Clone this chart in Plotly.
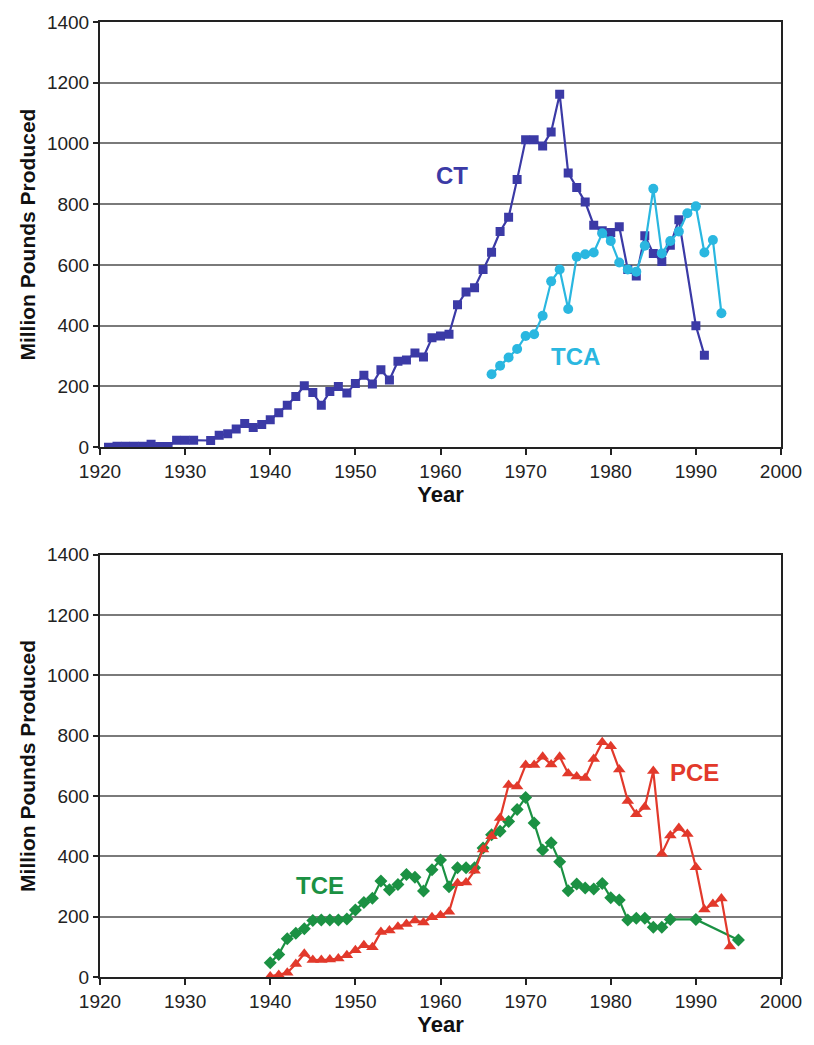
import plotly.graph_objects as go
from plotly.subplots import make_subplots

# ---- Data ----
ct_years = [1921, 1922, 1923, 1924, 1925, 1926, 1927, 1928, 1929, 1930, 1931, 1933,
            1934, 1935, 1936, 1937, 1938, 1939, 1940, 1941, 1942, 1943, 1944, 1945,
            1946, 1947, 1948, 1949, 1950, 1951, 1952, 1953, 1954, 1955, 1956, 1957,
            1958, 1959, 1960, 1961, 1962, 1963, 1964, 1965, 1966, 1967, 1968, 1969,
            1970, 1971, 1972, 1973, 1974, 1975, 1976, 1977, 1978, 1979, 1980, 1981,
            1982, 1983, 1984, 1985, 1986, 1987, 1988, 1990, 1991]
ct_values = [0, 3, 3, 3, 3, 10, 2, 2, 23, 23, 23, 22,
             39, 44, 60, 78, 65, 75, 90, 113, 138, 167, 202, 180,
             138, 183, 200, 178, 210, 237, 208, 255, 221, 283, 287, 310,
             297, 360, 366, 372, 469, 511, 525, 585, 642, 710, 757, 881,
             1012, 1012, 992, 1038, 1162, 903, 855, 807, 731, 713, 707, 726,
             585, 564, 696, 638, 611, 665, 749, 400, 303]

tca_years = [1966, 1967, 1968, 1969, 1970, 1971, 1972, 1973, 1974, 1975, 1976, 1977,
             1978, 1979, 1980, 1981, 1982, 1983, 1984, 1985, 1986, 1987, 1988, 1989,
             1990, 1991, 1992, 1993]
tca_values = [240, 268, 295, 323, 366, 372, 433, 546, 585, 455, 627, 635,
              641, 704, 679, 608, 585, 578, 663, 851, 638, 679, 710, 770,
              793, 641, 682, 441]

tce_years = [1940, 1941, 1942, 1943, 1944, 1945, 1946, 1947, 1948, 1949, 1950, 1951,
             1952, 1953, 1954, 1955, 1956, 1957, 1958, 1959, 1960, 1961, 1962, 1963,
             1964, 1965, 1966, 1967, 1968, 1969, 1970, 1971, 1972, 1973, 1974, 1975,
             1976, 1977, 1978, 1979, 1980, 1981, 1982, 1983, 1984, 1985, 1986, 1987,
             1990, 1995]
tce_values = [47, 75, 127, 145, 160, 187, 189, 189, 189, 192, 222, 247,
              261, 318, 289, 307, 340, 331, 285, 356, 388, 299, 362, 362,
              362, 428, 472, 483, 516, 555, 595, 511, 421, 445, 382, 286,
              308, 295, 292, 310, 263, 255, 189, 195, 195, 165, 165, 191,
              191, 123]

pce_years = [1940, 1941, 1942, 1943, 1944, 1945, 1946, 1947, 1948, 1949, 1950, 1951,
             1952, 1953, 1954, 1955, 1956, 1957, 1958, 1959, 1960, 1961, 1962, 1963,
             1964, 1965, 1966, 1967, 1968, 1969, 1970, 1971, 1972, 1973, 1974, 1975,
             1976, 1977, 1978, 1979, 1980, 1981, 1982, 1983, 1984, 1985, 1986, 1987,
             1988, 1989, 1990, 1991, 1992, 1993, 1994]
pce_values = [2, 7, 14, 43, 77, 56, 56, 58, 61, 72, 89, 105,
              99, 149, 154, 167, 176, 187, 181, 198, 205, 216, 311, 313,
              352, 423, 467, 527, 637, 632, 703, 703, 730, 705, 730, 675,
              665, 660, 723, 778, 765, 688, 584, 540, 564, 683, 409, 469,
              494, 474, 364, 224, 242, 260, 101]

x_ticks = [1920, 1930, 1940, 1950, 1960, 1970, 1980, 1990, 2000]
y_ticks = [0, 200, 400, 600, 800, 1000, 1200, 1400]

labels_top = [("CT", 1961.3, 895), ("TCA", 1975.8, 297)]
labels_bottom = [("TCE", 1945.8, 302), ("PCE", 1989.8, 679)]

C_CT = "#3b3aa6"
C_TCA = "#2ab7e0"
C_TCE = "#1b9143"
C_PCE = "#e2392b"

fig = make_subplots(rows=2, cols=1, vertical_spacing=0.1)

fig.add_trace(go.Scatter(x=ct_years, y=ct_values, mode="lines+markers",
                         line=dict(color=C_CT, width=2.2),
                         marker=dict(symbol="square", size=9, color=C_CT)), row=1, col=1)
fig.add_trace(go.Scatter(x=tca_years, y=tca_values, mode="lines+markers",
                         line=dict(color=C_TCA, width=2.2),
                         marker=dict(symbol="circle", size=10, color=C_TCA)), row=1, col=1)
fig.add_trace(go.Scatter(x=tce_years, y=tce_values, mode="lines+markers",
                         line=dict(color=C_TCE, width=2.2),
                         marker=dict(symbol="diamond", size=10, color=C_TCE)), row=2, col=1)
fig.add_trace(go.Scatter(x=pce_years, y=pce_values, mode="lines+markers",
                         line=dict(color=C_PCE, width=2.2),
                         marker=dict(symbol="triangle-up", size=11, color=C_PCE)), row=2, col=1)

font_family = "Liberation Sans, Arial, sans-serif"

xaxis_style = dict(range=[1920, 2000], tickvals=x_ticks, showgrid=False, zeroline=False,
                   showline=True, linecolor="#222222", linewidth=2, mirror=True,
                   ticks="outside", ticklen=6, tickwidth=1.5, tickcolor="#222222",
                   tickfont=dict(size=19, color="#222222", family=font_family),
                   title=dict(text="<b>Year</b>", font=dict(size=22, color="#111111", family=font_family),
                              standoff=6))
yaxis_style = dict(range=[0, 1400], tickvals=y_ticks, showgrid=True, gridcolor="#7a7a7a",
                   gridwidth=1.6, zeroline=False,
                   showline=True, linecolor="#222222", linewidth=2, mirror=True,
                   ticks="outside", ticklen=5, tickwidth=1.5, tickcolor="#222222",
                   tickfont=dict(size=19, color="#222222", family=font_family),
                   title=dict(text="<b>Million Pounds Produced</b>",
                              font=dict(size=21, color="#111111", family=font_family),
                              standoff=6))

fig.update_xaxes(**xaxis_style)
fig.update_yaxes(**yaxis_style)

fig.update_layout(
    width=814, height=1045,
    margin=dict(l=100, r=26, t=19, b=68),
    paper_bgcolor="white", plot_bgcolor="white",
    showlegend=False,
    font=dict(family=font_family),
    xaxis=dict(domain=[0, 1]), yaxis=dict(domain=[0.5548, 1.0]),
    xaxis2=dict(domain=[0, 1]), yaxis2=dict(domain=[0.0, 0.4421]),
)

for text, x, y in labels_top:
    col = C_CT if text == "CT" else C_TCA
    fig.add_annotation(x=x, y=y, xref="x", yref="y", text=f"<b>{text}</b>", showarrow=False,
                       font=dict(size=24, color=col, family=font_family))
for text, x, y in labels_bottom:
    col = C_TCE if text == "TCE" else C_PCE
    fig.add_annotation(x=x, y=y, xref="x2", yref="y2", text=f"<b>{text}</b>", showarrow=False,
                       font=dict(size=24, color=col, family=font_family))

fig.write_html("out.html")
